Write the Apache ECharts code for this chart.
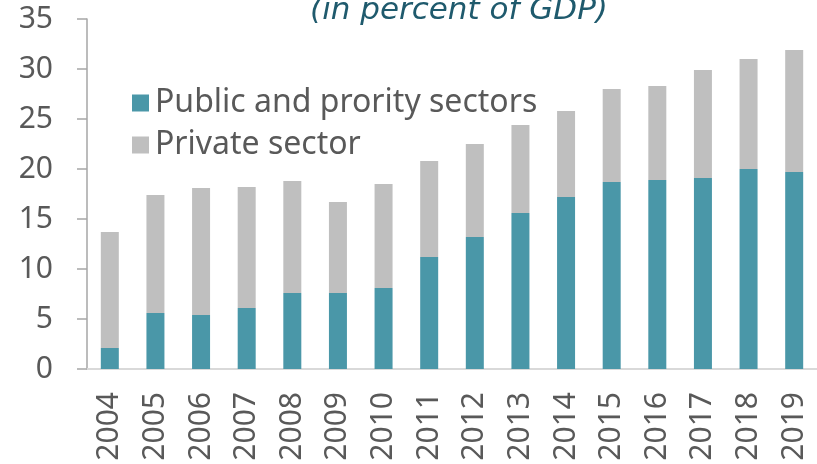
<!DOCTYPE html>
<html>
<head>
<meta charset="utf-8">
<script src="https://cdn.jsdelivr.net/npm/echarts@6/dist/echarts.min.js"></script>
<style>
html,body{margin:0;padding:0;background:#fff;}
#chart{width:817px;height:464px;}
</style>
</head>
<body>
<div id="chart"></div>
<script>
const years = ['2004','2005','2006','2007','2008','2009','2010','2011','2012','2013','2014','2015','2016','2017','2018','2019'];
const totals = [13.7, 17.4, 18.1, 18.2, 18.8, 16.7, 18.5, 20.8, 22.5, 24.4, 25.8, 28.0, 28.3, 29.9, 31.0, 31.9];
const publicSector = [2.1, 5.6, 5.4, 6.1, 7.6, 7.6, 8.1, 11.2, 13.2, 15.6, 17.2, 18.7, 18.9, 19.1, 20.0, 19.7];
const privateSector = totals.map((t, i) => +(t - publicSector[i]).toFixed(2));
const yTicks = [0, 5, 10, 15, 20, 25, 30, 35];
const titleText = '(in percent of GDP)';
const seriesNames = ['Public and prority sectors', 'Private sector'];

const FONT = 'Noto Sans';
const chart = echarts.init(document.getElementById('chart'), null, {renderer: 'canvas'});
chart.setOption({
  animation: false,
  backgroundColor: '#ffffff',
  textStyle: {fontFamily: FONT},
  title: {
    text: titleText,
    left: 454,
    textAlign: 'center',
    top: -10,
    textStyle: {fontFamily: 'DejaVu Sans', fontStyle: 'italic', fontWeight: 'normal', fontSize: 31, color: '#1f5a6d'}
  },
  legend: {
    orient: 'vertical',
    left: 127,
    top: 82,
    itemWidth: 17,
    itemHeight: 17,
    itemGap: 10,
    icon: 'rect',
    data: seriesNames,
    textStyle: {fontFamily: FONT, fontSize: 32, lineHeight: 30, color: '#595959', padding: [0, 0, 0, 1]}
  },
  grid: {left: 87, top: 19, bottom: 95, width: 733, containLabel: false},
  xAxis: {
    type: 'category',
    data: years,
    axisLine: {lineStyle: {color: '#d9d9d9', width: 2}},
    axisTick: {show: false},
    axisLabel: {rotate: 90, margin: 23, fontFamily: FONT, fontSize: 30, color: '#595959'}
  },
  yAxis: {
    type: 'value',
    min: yTicks[0],
    max: yTicks[yTicks.length - 1],
    interval: 5,
    axisLine: {show: true, lineStyle: {color: '#a6a6a6', width: 1.5}},
    axisTick: {show: true, length: 10, lineStyle: {color: '#a6a6a6', width: 1.5}},
    splitLine: {show: false},
    axisLabel: {margin: 34, fontFamily: FONT, fontSize: 30, color: '#595959'}
  },
  series: [
    {
      name: seriesNames[0], type: 'bar', stack: 'total', data: publicSector,
      barWidth: 18, itemStyle: {color: '#4a97a8'}
    },
    {
      name: seriesNames[1], type: 'bar', stack: 'total', data: privateSector,
      barWidth: 18, itemStyle: {color: '#bfbfbf'}
    }
  ]
});
</script>
</body>
</html>
